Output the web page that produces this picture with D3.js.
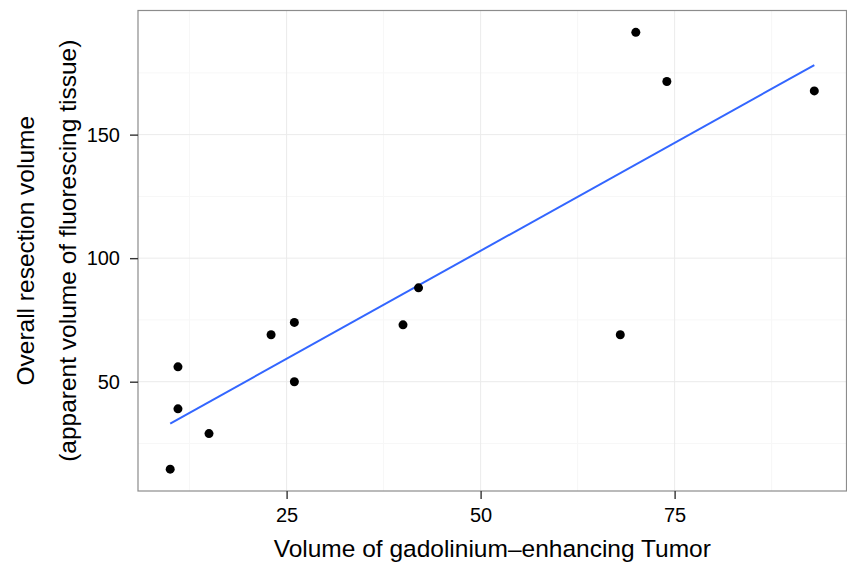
<!DOCTYPE html>
<html>
	<head>
		<meta charset="utf-8">
		<title>Resection volume vs tumor volume</title>
		<style>
			html, body { margin: 0; background: white; }
			body { width: 847px; height: 562px; overflow: hidden; font-family: "Liberation Sans", Arial, sans-serif; }
			.tick text { font-size: 20px; fill: #000; }
			.axisTitle { font-size: 24.5px; fill: #000; }
		</style>
	</head>
	<body>
		<div id="chart"></div>

		<script src="https://cdn.jsdelivr.net/npm/d3@7"></script>
		<script>
			// tumor volume (x) and resection volume (y)
			var tumorVol = [10, 11, 11, 15, 23, 26, 26, 40, 42, 68, 70, 74, 93]
			var resectVol = [14.6, 56, 39, 29, 69, 74, 50, 73, 88, 69, 191.4, 171.5, 167.7]
			var xTicks = [25, 50, 75]
			var yTicks = [50, 100, 150]
			var xTitle = "Volume of gadolinium\u2013enhancing Tumor"
			var yTitle = ["Overall resection volume", "(apparent volume of fluorescing tissue)"]

			var width = 847, height = 562
			var margin = { left: 138, right: 0.5, top: 10.5, bottom: 71 }

			var svg = d3.select("#chart").append("svg")
				.attr("width", width)
				.attr("height", height)

			// ggplot-like 5% expansion
			function expand(ext) {
				var pad = (ext[1] - ext[0]) * 0.05
				return [ext[0] - pad, ext[1] + pad]
			}

			var x = d3.scaleLinear()
				.domain(expand(d3.extent(tumorVol)))
				.range([margin.left, width - margin.right])
			var y = d3.scaleLinear()
				.domain(expand(d3.extent(resectVol)))
				.range([height - margin.bottom, margin.top])

			var pw = x.range()[1] - x.range()[0]
			var ph = y.range()[0] - y.range()[1]

			// minor grid halfway between major ticks
			var xMinor = [], yMinor = []
			var xs = [0].concat(xTicks).concat([100])
			for (var i = 0; i < xs.length - 1; i++) xMinor.push((xs[i] + xs[i + 1]) / 2)
			var ys = [0].concat(yTicks).concat([200])
			for (var i = 0; i < ys.length - 1; i++) yMinor.push((ys[i] + ys[i + 1]) / 2)
			xMinor = xMinor.filter(function(v) { return v > x.domain()[0] && v < x.domain()[1] })
			yMinor = yMinor.filter(function(v) { return v > y.domain()[0] && v < y.domain()[1] })

			var grid = svg.append("g")
			grid.selectAll(".xmin").data(xMinor).enter().append("line")
				.attr("x1", function(d) { return x(d) }).attr("x2", function(d) { return x(d) })
				.attr("y1", y.range()[1]).attr("y2", y.range()[0])
				.attr("stroke", "#f7f7f7").attr("stroke-width", 1)
			grid.selectAll(".ymin").data(yMinor).enter().append("line")
				.attr("y1", function(d) { return y(d) }).attr("y2", function(d) { return y(d) })
				.attr("x1", x.range()[0]).attr("x2", x.range()[1])
				.attr("stroke", "#f7f7f7").attr("stroke-width", 1)
			grid.selectAll(".xmaj").data(xTicks).enter().append("line")
				.attr("x1", function(d) { return x(d) }).attr("x2", function(d) { return x(d) })
				.attr("y1", y.range()[1]).attr("y2", y.range()[0])
				.attr("stroke", "#ebebeb").attr("stroke-width", 1)
			grid.selectAll(".ymaj").data(yTicks).enter().append("line")
				.attr("y1", function(d) { return y(d) }).attr("y2", function(d) { return y(d) })
				.attr("x1", x.range()[0]).attr("x2", x.range()[1])
				.attr("stroke", "#ebebeb").attr("stroke-width", 1)

			// linear fit (least squares) drawn over the data range
			var mx = d3.mean(tumorVol), my = d3.mean(resectVol)
			var sxy = d3.sum(tumorVol, function(v, i) { return (v - mx) * (resectVol[i] - my) })
			var sxx = d3.sum(tumorVol, function(v) { return (v - mx) * (v - mx) })
			var slope = sxy / sxx, icpt = my - slope * mx
			var fitX = d3.extent(tumorVol)

			svg.append("line")
				.attr("x1", x(fitX[0])).attr("y1", y(icpt + slope * fitX[0]))
				.attr("x2", x(fitX[1])).attr("y2", y(icpt + slope * fitX[1]))
				.attr("stroke", "#3366ff").attr("stroke-width", 2)

			svg.selectAll(".pt").data(tumorVol).enter().append("circle")
				.attr("cx", function(d) { return x(d) })
				.attr("cy", function(d, i) { return y(resectVol[i]) })
				.attr("r", 4.5)
				.attr("fill", "#000")

			// panel border
			svg.append("rect")
				.attr("x", x.range()[0]).attr("y", y.range()[1])
				.attr("width", pw).attr("height", ph)
				.attr("fill", "none").attr("stroke", "#8c8c8c").attr("stroke-width", 1.2)

			var xAxis = svg.append("g")
				.attr("transform", "translate(0," + y.range()[0] + ")")
				.call(d3.axisBottom(x).tickValues(xTicks).tickSize(8).tickPadding(9))
			var yAxis = svg.append("g")
				.attr("transform", "translate(" + x.range()[0] + ",0)")
				.call(d3.axisLeft(y).tickValues(yTicks).tickSize(8).tickPadding(10))
			xAxis.select(".domain").remove()
			yAxis.select(".domain").remove()
			svg.selectAll(".tick line").attr("stroke", "#333").attr("stroke-width", 1.4)
			svg.selectAll(".tick text").attr("font-family", null).attr("font-size", null)

			svg.append("text")
				.attr("class", "axisTitle")
				.attr("text-anchor", "middle")
				.attr("x", x.range()[0] + pw / 2)
				.attr("y", 557)
				.text(xTitle)

			yTitle.forEach(function(t, i) {
				svg.append("text")
					.attr("class", "axisTitle")
					.attr("text-anchor", "middle")
					.attr("transform", "translate(" + (34 + i * 42) + "," + (y.range()[1] + ph / 2) + ") rotate(-90)")
					.text(t)
			})
		</script>
	</body>
</html>
